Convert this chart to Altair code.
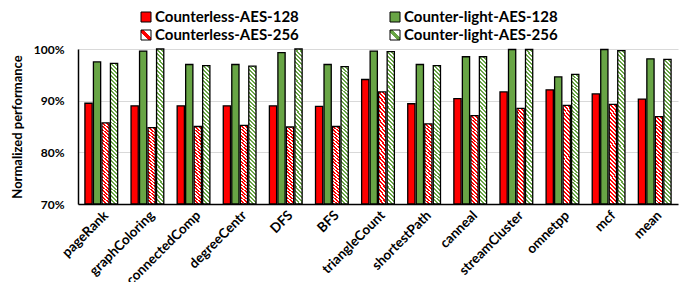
import altair as alt
import pandas as pd

categories = ["pageRank", "graphColoring", "connectedComp", "degreeCentr", "DFS", "BFS",
              "triangleCount", "shortestPath", "canneal", "streamCluster", "omnetpp", "mcf", "mean"]
series = ["Counterless-AES-128", "Counter-light-AES-128", "Counterless-AES-256", "Counter-light-AES-256"]
counterless_128 = [89.5, 89.0, 89.0, 89.0, 89.0, 88.9, 94.1, 89.4, 90.4, 91.7, 92.1, 91.3, 90.3]
counterlight_128 = [97.5, 99.6, 97.0, 97.0, 99.3, 97.0, 99.6, 97.0, 98.5, 99.9, 94.6, 99.9, 98.1]
counterless_256 = [85.7, 84.8, 85.0, 85.2, 84.9, 85.0, 91.7, 85.5, 87.1, 88.5, 89.1, 89.3, 86.9]
counterlight_256 = [97.2, 100.0, 96.8, 96.7, 100.0, 96.6, 99.5, 96.8, 98.5, 99.9, 95.1, 99.7, 98.0]
y_ticks = [70, 80, 90, 100]

RED = "#FF0000"
GREEN = "#68A545"

rows = []
for s, vals in zip(series, [counterless_128, counterlight_128, counterless_256, counterlight_256]):
    for c, v in zip(categories, vals):
        rows.append({"category": c, "series": s, "value": v})
df = pd.DataFrame(rows)

leg = pd.DataFrame({"series": series})


def stripes(color, n, r):
    a = (1 + r) / (1 + r * r)
    b = r * a
    stops = []
    for k in range(n):
        s0, s1, s2 = k / n, (k + 0.5) / n, (k + 1) / n
        stops += [
            alt.GradientStop(offset=s0, color=color),
            alt.GradientStop(offset=s1, color=color),
            alt.GradientStop(offset=s1, color="white"),
            alt.GradientStop(offset=s2, color="white"),
        ]
    return alt.LinearGradient(gradient="linear", stops=stops, x1=0, y1=1, x2=a, y2=1 - b)


def legend_hatch(color):
    return alt.LinearGradient(
        gradient="linear",
        stops=[
            alt.GradientStop(offset=0, color="white"),
            alt.GradientStop(offset=0.36, color="white"),
            alt.GradientStop(offset=0.36, color=color),
            alt.GradientStop(offset=0.64, color=color),
            alt.GradientStop(offset=0.64, color="white"),
            alt.GradientStop(offset=1, color="white"),
        ],
        x1=0, y1=1, x2=1, y2=0,
    )


base = alt.Chart(df).encode(
    x=alt.X("category:N", sort=categories,
            scale=alt.Scale(paddingInner=0.29, paddingOuter=0.15),
            axis=alt.Axis(title=None, labelAngle=-45, ticks=False, domainColor="black",
                          domainWidth=1.5, labelFont="Lato", labelFontWeight="bold",
                          labelFontSize=13.5, labelColor="black", grid=False, labelPadding=4)),
    xOffset=alt.XOffset("series:N", scale=alt.Scale(domain=series, paddingInner=0.15)),
    y=alt.Y("value:Q", scale=alt.Scale(domain=[70, 100]),
            axis=alt.Axis(values=y_ticks, labelExpr="datum.value + '%'",
                          title="Normalized performance", ticks=False, domainColor="black",
                          domainWidth=1.5, gridColor="#d9d9d9", gridWidth=1,
                          labelFont="Lato", labelFontWeight="bold", labelFontSize=12,
                          labelColor="black", labelPadding=14, titleFont="Lato",
                          titleFontWeight="bold", titleFontSize=13, titleColor="black",
                          titlePadding=9)),
    y2=alt.datum(70),
)

solid = base.transform_filter(
    alt.FieldOneOfPredicate(field="series", oneOf=series[:2])
).mark_bar(stroke="black", strokeWidth=1.3).encode(
    fill=alt.Fill("series:N", scale=alt.Scale(domain=series[:2], range=[RED, GREEN]), legend=None)
)
hatch_red = base.transform_filter(alt.datum.series == series[2]).mark_bar(
    fill=stripes(RED, 26, 13), stroke="black", strokeWidth=1.3)
hatch_green = base.transform_filter(alt.datum.series == series[3]).mark_bar(
    fill=stripes(GREEN, 38, 20), stroke="black", strokeWidth=1.3)

main = alt.layer(solid, hatch_red, hatch_green).properties(width=600, height=155)

lbase = alt.Chart(leg).transform_calculate(
    col="indexof(datum.series, 'Counterless') === 0 ? 0 : 1",
    row="indexof(datum.series, '256') > 0 ? 1 : 0",
).encode(
    x=alt.X("col:Q", scale=alt.Scale(domain=[0, 1], range=[68, 317], zero=False, nice=False), axis=None),
    y=alt.Y("row:Q", scale=alt.Scale(domain=[0, 1], range=[4, 22], zero=False, nice=False), axis=None),
)
l_solid = lbase.transform_filter(
    alt.FieldOneOfPredicate(field="series", oneOf=series[:2])
).mark_square(size=100, stroke="black", strokeWidth=1, opacity=1).encode(
    fill=alt.Fill("series:N", scale=alt.Scale(domain=series[:2], range=[RED, GREEN]), legend=None))
l_hr = lbase.transform_filter(alt.datum.series == series[2]).mark_square(
    size=100, fill=legend_hatch(RED), stroke="black", strokeWidth=1, opacity=1)
l_hg = lbase.transform_filter(alt.datum.series == series[3]).mark_square(
    size=100, fill=legend_hatch(GREEN), stroke="black", strokeWidth=1, opacity=1)
l_text = lbase.mark_text(align="left", baseline="middle", dx=9, font="Lato",
                         fontWeight="bold", fontSize=15, color="black").encode(text="series:N")
legend = alt.layer(l_solid, l_hr, l_hg, l_text).properties(width=600, height=26)

chart = alt.vconcat(legend, main, spacing=0).properties(
    padding={"left": 3, "top": 2, "right": 5, "bottom": 2}
).configure_view(stroke=None).resolve_scale(fill="independent")

chart.save("out.html", embed_options={"renderer": "svg", "actions": False})
